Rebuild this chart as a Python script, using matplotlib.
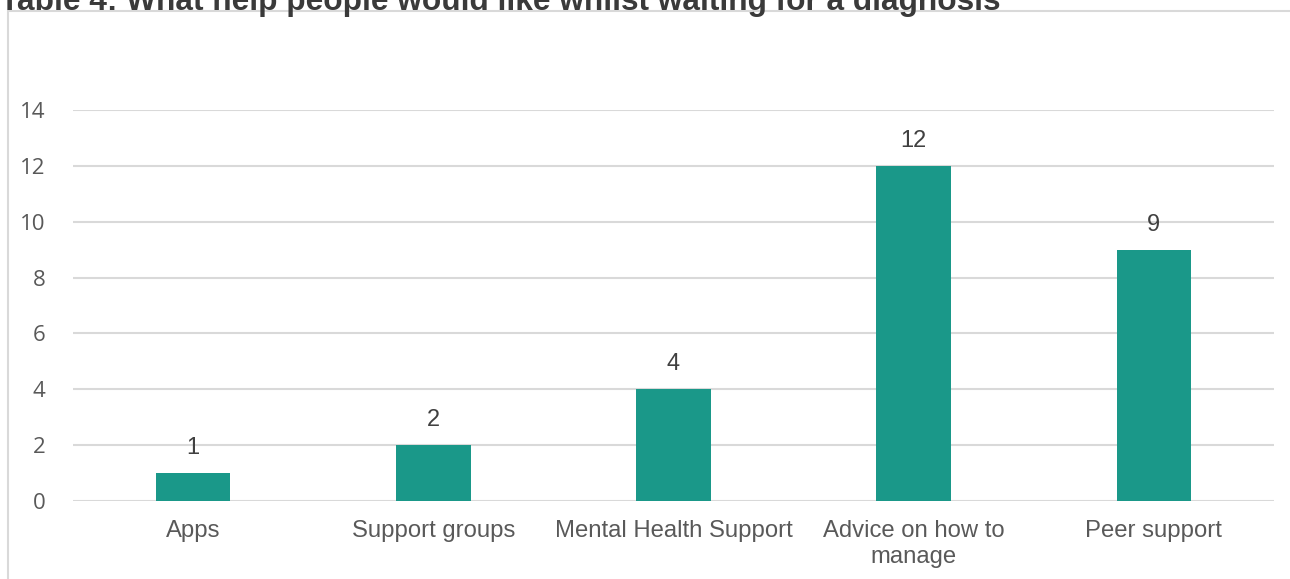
import matplotlib.pyplot as plt
from matplotlib.patches import Rectangle

categories = ["Apps", "Support groups", "Mental Health Support",
              "Advice on how to\nmanage", "Peer support"]
counts = [1, 2, 4, 12, 9]
yticks = [0, 2, 4, 6, 8, 10, 12, 14]

W, H = 1290, 579
fig = plt.figure(figsize=(W / 100, H / 100), dpi=100)

# light grey chart frame, running off the right and bottom edges
frame = Rectangle((8 / W, -0.1), 1.2, 1 - 11 / H + 0.1, transform=fig.transFigure,
                  fill=False, ec="#d9d9d9", lw=1.5, zorder=0)
fig.patches.append(frame)

fig.text(0, 1 - 10 / H, "Table 4: What help people would like whilst waiting for a diagnosis",
         ha="left", va="baseline", fontsize=22.8, fontweight="bold",
         family="Liberation Sans", color="#3a3a3a")

ax = fig.add_axes([73 / W, 1 - 501 / H, (1274 - 73) / W, (501 - 110) / H])
x = range(len(categories))
ax.bar(x, counts, width=0.31, color="#1a9889", zorder=2)

for i, v in zip(x, counts):
    ax.annotate(str(v), (i, v), xytext=(0, 10), textcoords="offset points",
                ha="center", va="bottom", fontsize=17, family="Liberation Sans",
                color="#404040")

ax.set_xlim(-0.5, len(categories) - 0.5)
ax.set_ylim(0, 14)
ax.set_yticks(yticks)
ax.yaxis.grid(True, color="#d9d9d9", lw=1.5, zorder=0)
ax.set_axisbelow(True)
for s in ax.spines.values():
    s.set_visible(False)
ax.tick_params(axis="both", length=0)
ax.tick_params(axis="y", pad=20, labelsize=16, labelcolor="#595959")
ax.set_yticklabels([str(t) for t in yticks], family="Open Sans")
ax.set_xticks(list(x))
ax.set_xticklabels(categories, family="Liberation Sans", fontsize=17.2,
                   color="#595959", linespacing=1.2)
ax.tick_params(axis="x", pad=14)

fig.savefig("out.png", dpi=100, facecolor="white")
